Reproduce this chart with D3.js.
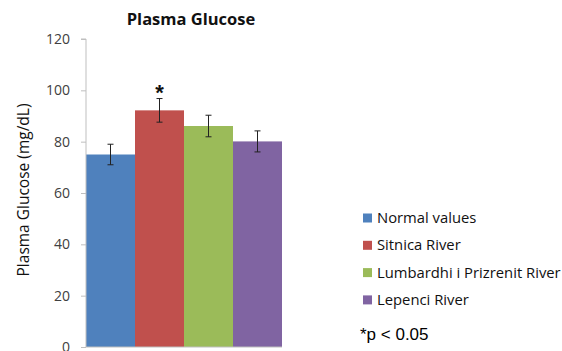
<!DOCTYPE html>
<html><head><meta charset="utf-8">
<script src="https://cdn.jsdelivr.net/npm/d3@7"></script>
<style>body{margin:0;background:#fff}svg{display:block}</style>
</head><body>
<svg id="c" width="562" height="351"></svg>
<script>
const categories = ["Normal values","Sitnica River","Lumbardhi i Prizrenit River","Lepenci River"];
const values = [75, 92.2, 86.1, 80.1];
const errors = [4, 4.6, 4.2, 4.1];
const colors = ["#4F81BD","#C0504D","#9BBB59","#8064A2"];
const yTicks = [0,20,40,60,80,100,120];
const significant = [false,true,false,false];

(function(){
const svg = d3.select("#c");
const pL = 86, pR = 282, pT = 39, pB = 347;
const x = d3.scaleBand().domain(categories).range([pL, pR]).padding(0);
const y = d3.scaleLinear().domain([0,120]).range([pB, pT]);

// bars
svg.selectAll("rect.bar").data(categories).enter().append("rect")
  .attr("x", d => x(d)).attr("width", x.bandwidth())
  .attr("y", (d,i) => y(values[i])).attr("height", (d,i) => y(0)-y(values[i]))
  .attr("fill", (d,i) => colors[i]);

// error bars
const eg = svg.selectAll("g.err").data(categories).enter().append("g")
  .attr("stroke","#222").attr("stroke-width",1);
eg.append("line").attr("x1", d=>x(d)+x.bandwidth()/2).attr("x2", d=>x(d)+x.bandwidth()/2)
  .attr("y1",(d,i)=>y(values[i]+errors[i])).attr("y2",(d,i)=>y(values[i]-errors[i]));
eg.append("line").attr("x1", d=>x(d)+x.bandwidth()/2-3).attr("x2", d=>x(d)+x.bandwidth()/2+3)
  .attr("y1",(d,i)=>y(values[i]+errors[i])).attr("y2",(d,i)=>y(values[i]+errors[i]));
eg.append("line").attr("x1", d=>x(d)+x.bandwidth()/2-3).attr("x2", d=>x(d)+x.bandwidth()/2+3)
  .attr("y1",(d,i)=>y(values[i]-errors[i])).attr("y2",(d,i)=>y(values[i]-errors[i]));

// asterisk
svg.selectAll("text.sig").data(categories.filter((d,i)=>significant[i])).enter().append("text")
  .attr("x", d=>x(d)+x.bandwidth()/2).attr("y", d=>{const i=categories.indexOf(d);return y(values[i]+errors[i])+1;})
  .attr("text-anchor","middle").attr("font-family","Liberation Sans, Arial").attr("font-size",22).attr("font-weight","bold")
  .attr("fill","#111").text("*");

// y axis
const ax = d3.axisLeft(y).tickValues(yTicks).tickSize(5).tickPadding(11);
const ag = svg.append("g").attr("transform",`translate(${pL},0)`).call(ax);
ag.select(".domain").attr("stroke","#BFBFBF").attr("d",`M-5,${pT}H0V${pB}`);
ag.selectAll(".tick line").attr("stroke","#BFBFBF");
ag.selectAll(".tick text").attr("font-family","Open Sans, Noto Sans, sans-serif").attr("font-size",14).attr("fill","#404040");

// baseline
svg.append("line").attr("x1",pL).attr("x2",pR).attr("y1",pB).attr("y2",pB).attr("stroke","#BFBFBF");

// title
svg.append("text").attr("x",191).attr("y",25).attr("text-anchor","middle")
  .attr("font-family","Open Sans, Noto Sans, sans-serif").attr("font-size",16.5).attr("font-weight","bold").attr("fill","#111")
  .text("Plasma Glucose");

// y label
svg.append("text").attr("transform","translate(29,190) rotate(-90)").attr("text-anchor","middle")
  .attr("font-family","Open Sans, Noto Sans, sans-serif").attr("font-size",15.5).attr("fill","#111")
  .text("Plasma Glucose (mg/dL)");

// legend
const lg = svg.selectAll("g.leg").data(categories).enter().append("g")
  .attr("transform",(d,i)=>`translate(363,${218+i*27.3})`);
lg.append("rect").attr("x",0).attr("y",-4.5).attr("width",9).attr("height",9).attr("fill",(d,i)=>colors[i]);
lg.append("text").attr("x",14).attr("y",0).attr("dy","0.35em")
  .attr("font-family","Open Sans, Noto Sans, sans-serif").attr("font-size",14.8).attr("fill","#111").text(d=>d);

svg.append("text").attr("x",360).attr("y",340).attr("font-family","Liberation Sans, Arial").attr("font-size",17).attr("fill","#000")
  .text("*p < 0.05");
})();
</script>
</body></html>
